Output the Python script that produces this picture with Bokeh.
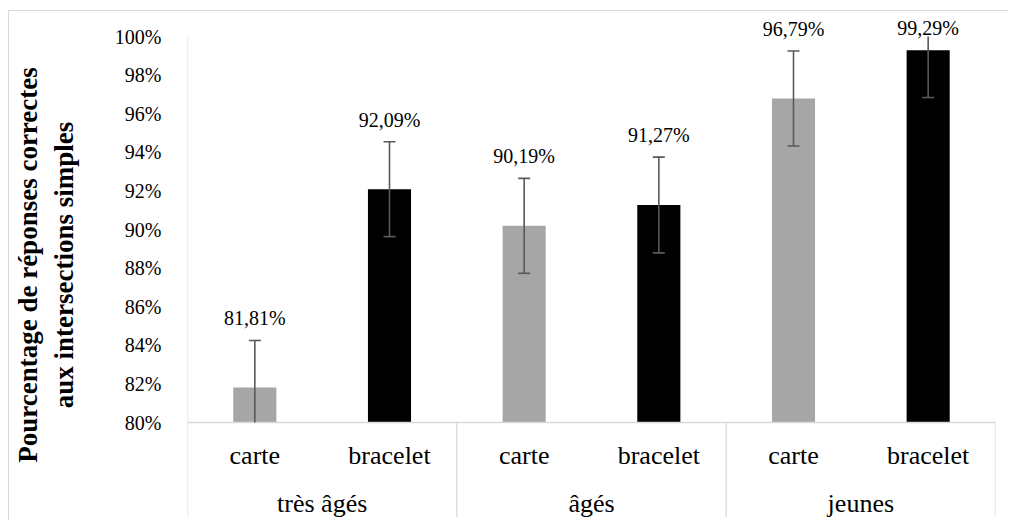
from bokeh.plotting import figure
from bokeh.models import FixedTicker, PrintfTickFormatter, ColumnDataSource
from bokeh.core.properties import value
from bokeh.embed import file_html
from bokeh.resources import INLINE

groups = ["très âgés", "âgés", "jeunes"]
conditions = ["carte", "bracelet"]
values = [81.81, 92.09, 90.19, 91.27, 96.79, 99.29]
errors = [2.44, 2.46, 2.46, 2.48, 2.46, 2.45]
labels = ["81,81%", "92,09%", "90,19%", "91,27%", "96,79%", "99,29%"]
y_ticks = [80, 82, 84, 86, 88, 90, 92, 94, 96, 98, 100]
y_title = "Pourcentage de réponses correctes\naux intersections simples"

Y_MIN, Y_MAX = 80, 100
px_per_unit = 386 / 20.0
y_start = Y_MIN - 95 / px_per_unit
y_end = Y_MAX + 24 / px_per_unit

FONT = value("Liberation Serif")
LINE = "#D9D9D9"
ERR = "#595959"
GRAY = "#A6A6A6"

n = len(values)
xs = [i + 0.5 for i in range(n)]
colors = [GRAY if i % 2 == 0 else "#000000" for i in range(n)]
sub_names = [conditions[i % 2] for i in range(n)]
hi = [min(v + e, Y_MAX) for v, e in zip(values, errors)]
lo = [max(v - e, Y_MIN) for v, e in zip(values, errors)]

p = figure(width=1000, height=510, x_range=(0, n), y_range=(y_start, y_end),
           output_backend="svg", toolbar_location=None, x_axis_location=None,
           min_border_left=176, min_border_right=14, min_border_top=1, min_border_bottom=4)
p.outline_line_color = None
p.xgrid.visible = False
p.ygrid.visible = False
p.styles = {"margin-left": "8px", "margin-top": "10px",
            "border-top": "1px solid #D9D9D9", "border-left": "1px solid #D9D9D9"}

# bars
src = ColumnDataSource(dict(x=xs, top=values, color=colors))
p.vbar(x="x", top="top", bottom=Y_MIN, width=0.32, fill_color="color", line_color=None, source=src)

# frame lines
p.segment(x0=[0], y0=[y_start], x1=[0], y1=[Y_MAX], line_color=LINE, line_width=1.3)
p.segment(x0=[0], y0=[Y_MIN], x1=[n], y1=[Y_MIN], line_color=LINE, line_width=1.3)
sep = [2 * (k + 1) for k in range(len(groups))]
p.segment(x0=sep, y0=[y_start] * len(sep), x1=sep, y1=[Y_MIN] * len(sep), line_color=LINE, line_width=1.3)

# error bars
p.segment(x0=xs, y0=lo, x1=xs, y1=hi, line_color=ERR, line_width=1.6)
cap_x = [x for x, v, e in zip(xs, values, errors) if v + e <= Y_MAX] + \
        [x for x, v, e in zip(xs, values, errors) if v - e >= Y_MIN]
cap_y = [v + e for v, e in zip(values, errors) if v + e <= Y_MAX] + \
        [v - e for v, e in zip(values, errors) if v - e >= Y_MIN]
p.scatter(x=cap_x, y=cap_y, marker="dash", size=12, line_color=ERR, line_width=1.6)

# data labels
offs = [-22 if v + e <= Y_MAX else -9 for v, e in zip(values, errors)]
p.text(x=xs, y=hi, text=labels, y_offset=offs, text_align="center", text_baseline="middle",
       text_font=FONT, text_font_size="20px", text_color="#000000")

# category labels
p.text(x=xs, y=[Y_MIN] * n, text=sub_names, y_offset=33, text_align="center", text_baseline="middle",
       text_font=FONT, text_font_size="26px", text_color="#000000")
gx = [2 * k + 1 for k in range(len(groups))]
p.text(x=gx, y=[Y_MIN] * len(groups), text=groups, y_offset=81, text_align="center", text_baseline="middle",
       text_font=FONT, text_font_size="26px", text_color="#000000")

# y axis
ax = p.yaxis[0]
ax.ticker = FixedTicker(ticks=y_ticks)
ax.formatter = PrintfTickFormatter(format="%d%%")
ax.axis_line_color = None
ax.major_tick_line_color = None
ax.minor_tick_line_color = None
ax.major_label_text_font = "Liberation Serif"
ax.major_label_text_font_size = "20px"
ax.major_label_text_color = "#000000"
ax.major_label_standoff = 20
ax.axis_label = y_title
ax.axis_label_text_font = "Liberation Serif"
ax.axis_label_text_font_style = "bold"
ax.axis_label_text_font_size = "27px"
ax.axis_label_text_color = "#000000"
ax.axis_label_standoff = 33

open("out.html", "w").write(file_html(p, INLINE))
